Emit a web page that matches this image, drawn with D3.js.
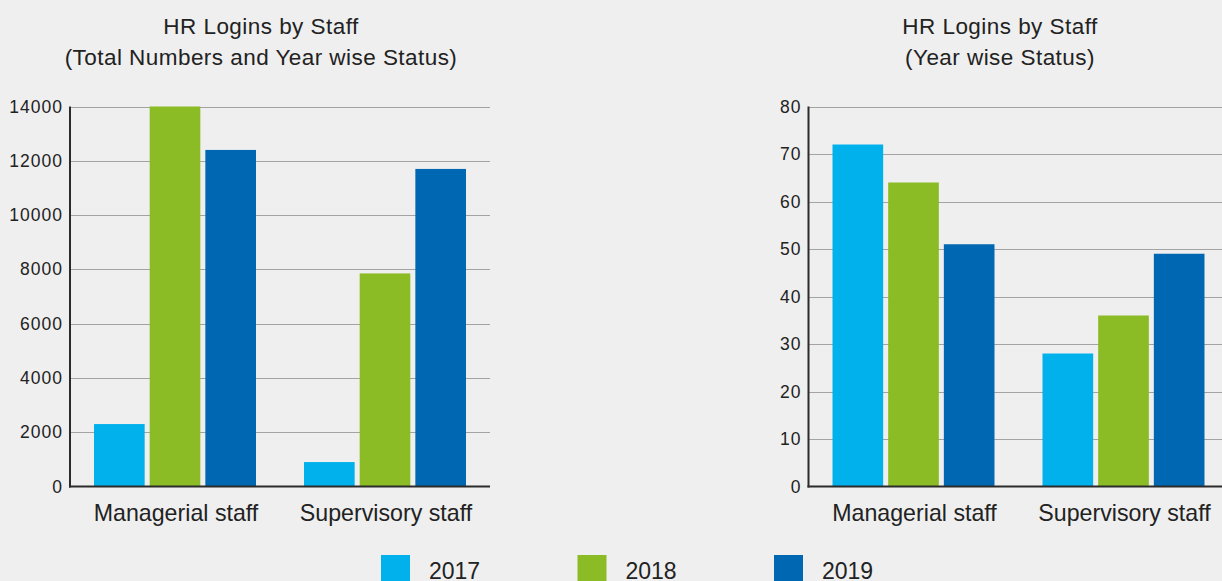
<!DOCTYPE html>
<html><head><meta charset="utf-8">
<script src="https://cdn.jsdelivr.net/npm/d3@7"></script>
<style>
html,body{margin:0;padding:0;background:#efefef;}
svg{display:block;font-family:"Liberation Sans",Arial,sans-serif;}
</style></head>
<body>
<svg id="c" width="1222" height="581"></svg>
<script>
const categories = ["Managerial staff", "Supervisory staff"];
const years = ["2017", "2018", "2019"];
const colors = ["#00b1eb", "#8bbc25", "#0068b3"];
// Left chart: total numbers
const total2017 = [2300, 900];
const total2018 = [14000, 7850];
const total2019 = [12400, 11700];
const totalTicks = [0, 2000, 4000, 6000, 8000, 10000, 12000, 14000];
// Right chart: year wise status
const status2017 = [72, 28];
const status2018 = [64, 36];
const status2019 = [51, 49];
const statusTicks = [0, 10, 20, 30, 40, 50, 60, 70, 80];

const svg = d3.select("#c");

function drawChart(opts) {
  const {x0, x1, top, bottom, series, ticks, max, titleX, titles} = opts;
  const g = svg.append("g");
  const y = d3.scaleLinear().domain([0, max]).range([bottom, top]);
  const xb = d3.scaleBand().domain(categories).range([x0, x1]).paddingInner(0.2286).paddingOuter(0.1143);
  const xs = d3.scaleBand().domain(years).range([0, xb.bandwidth()]).paddingInner(0.09);

  // gridlines
  g.selectAll("line.grid").data(ticks.filter(t => t > 0)).join("line")
    .attr("x1", x0).attr("x2", x1)
    .attr("y1", d => Math.round(y(d)) + 0.5).attr("y2", d => Math.round(y(d)) + 0.5)
    .attr("stroke", "#a3a3a3").attr("stroke-width", 1);

  // bars
  const grp = g.selectAll("g.cat").data(categories).join("g")
    .attr("transform", d => `translate(${xb(d)},0)`);
  grp.selectAll("rect").data((c, i) => years.map((yr, j) => ({yr, v: series[j][i], j}))).join("rect")
    .attr("x", d => xs(d.yr)).attr("width", xs.bandwidth())
    .attr("y", d => y(d.v)).attr("height", d => bottom - y(d.v))
    .attr("fill", d => colors[d.j]);

  // axes lines
  g.append("line").attr("x1", x0).attr("x2", x0).attr("y1", top).attr("y2", bottom + 1)
    .attr("stroke", "#2b2b2b").attr("stroke-width", 2);
  g.append("line").attr("x1", x0 - 1).attr("x2", x1).attr("y1", bottom).attr("y2", bottom)
    .attr("stroke", "#2b2b2b").attr("stroke-width", 2);

  // tick labels
  g.selectAll("text.tick").data(ticks).join("text")
    .attr("x", x0 - 7).attr("y", d => y(d)).attr("dy", "0.35em")
    .attr("text-anchor", "end").attr("font-size", 17.5).attr("letter-spacing", "1px")
    .attr("fill", "#222")
    .text(d => d);

  // category labels
  const xc = d3.scaleBand().domain(categories).range([x0, x1]);
  g.selectAll("text.cat").data(categories).join("text")
    .attr("x", d => xc(d) + xc.bandwidth() / 2 + 1).attr("y", 521)
    .attr("text-anchor", "middle").attr("font-size", 23.2).attr("fill", "#222")
    .text(d => d);

  // titles
  titles.forEach((t, i) => {
    g.append("text").attr("x", titleX).attr("y", 34 + i * 31)
      .attr("text-anchor", "middle").attr("font-size", 22.5).attr("letter-spacing", "0.45px")
      .attr("fill", "#222").text(t);
  });
}

drawChart({x0: 70, x1: 490, top: 106.5, bottom: 486.5,
  series: [total2017, total2018, total2019], ticks: totalTicks, max: 14000,
  titleX: 261, titles: ["HR Logins by Staff", "(Total Numbers and Year wise Status)"]});
drawChart({x0: 808.5, x1: 1228.5, top: 106.5, bottom: 486.5,
  series: [status2017, status2018, status2019], ticks: statusTicks, max: 80,
  titleX: 1000, titles: ["HR Logins by Staff", "(Year wise Status)"]});

// legend
const legendX = d3.scalePoint().domain(years).range([381, 774]);
const lg = svg.selectAll("g.leg").data(years).join("g")
  .attr("transform", d => `translate(${legendX(d)},555)`);
lg.append("rect").attr("width", 29).attr("height", 30).attr("fill", (d, i) => colors[i]);
lg.append("text").attr("x", 48).attr("y", 23.5).attr("font-size", 23).attr("fill", "#222").text(d => d);
</script>
</body></html>
